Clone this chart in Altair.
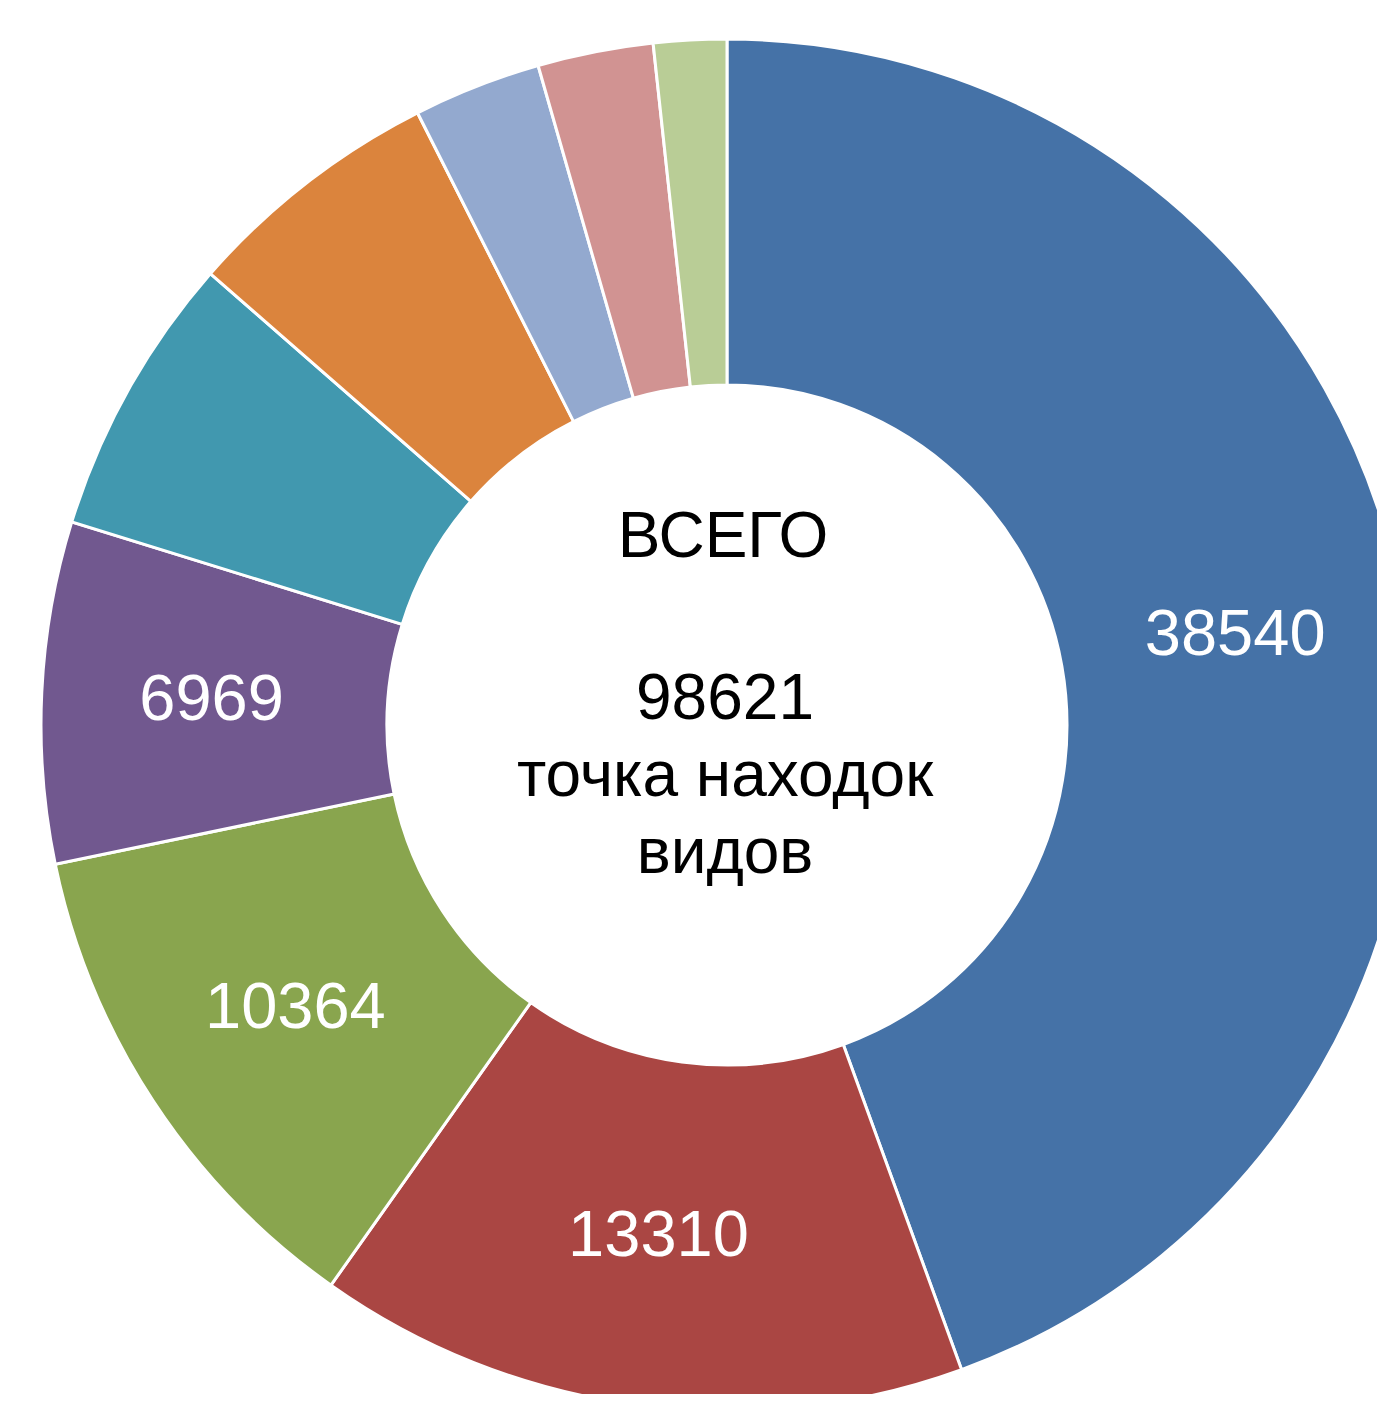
import altair as alt
import pandas as pd

categories = ["A", "B", "C", "D", "E", "F", "G", "H", "I"]
values = [38540, 13310, 10364, 6969, 5760, 5310, 2610, 2360, 1490]
labels = ["38540", "13310", "10364", "6969", "", "", "", "", ""]
colors = ["#4572A7", "#AA4643", "#89A54E", "#71588F", "#4198AF",
          "#DB843D", "#93A9CF", "#D19392", "#B9CD96"]
center_title = "ВСЕГО"
center_lines = ["98621", "точка находок", "видов"]

df = pd.DataFrame({
    "cat": categories,
    "value": values,
    "label": labels,
    "order": list(range(len(categories))),
})

CX, CY = 719, 717

base = alt.Chart(df).encode(
    theta=alt.Theta("value:Q", stack=True),
    order=alt.Order("order:Q", sort="ascending"),
    x=alt.value(CX),
    y=alt.value(CY),
)

arcs = base.mark_arc(
    innerRadius=340, outerRadius=686, stroke="white", strokeWidth=3
).encode(
    color=alt.Color("cat:N", scale=alt.Scale(domain=categories, range=colors), legend=None)
)

text = base.mark_text(
    radius=516, font="Liberation Sans", fontSize=65, color="white",
    align="center", baseline="middle"
).encode(text="label:N")

title = alt.Chart(pd.DataFrame({"t": [center_title]})).mark_text(
    font="Liberation Sans", fontSize=64, color="black", align="center",
    baseline="alphabetic"
).encode(text="t:N", x=alt.value(715), y=alt.value(549))

center = alt.Chart(pd.DataFrame({"t": [center_lines]})).mark_text(
    font="Liberation Sans", fontSize=64, color="black", align="center",
    baseline="alphabetic", lineHeight=77
).encode(text="t", x=alt.value(717), y=alt.value(711))

chart = alt.layer(arcs, text, title, center).properties(
    width=1369, height=1386, padding=0, background="white",
    autosize=alt.AutoSizeParams(type="none")
).configure_view(stroke=None)

chart.save("out.html", embed_options={"renderer": "svg", "actions": False})
